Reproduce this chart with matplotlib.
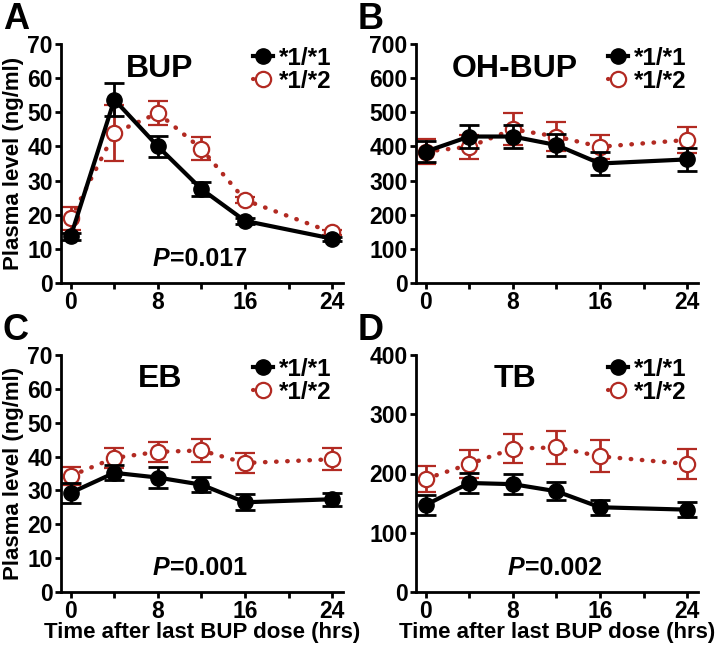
import matplotlib
matplotlib.use("Agg")
import matplotlib.pyplot as plt
from matplotlib.ticker import MultipleLocator
from matplotlib.lines import Line2D

plt.rcParams['font.family'] = ['Liberation Sans', 'DejaVu Sans']
plt.rcParams['font.weight'] = 'bold'

hours = [0, 4, 8, 12, 16, 24]
groups = ["*1/*1", "*1/*2"]

bup_11 = [13.7, 53.7, 40.0, 27.5, 18.2, 13.0]
bup_11_err = [1.0, 4.9, 3.1, 2.0, 0.8, 0.6]
bup_12 = [18.9, 43.9, 49.8, 39.3, 24.3, 14.8]
bup_12_err = [3.3, 8.1, 3.6, 3.4, 1.0, 0.8]

oh_11 = [385, 429, 429, 404, 350, 362]
oh_11_err = [30, 34, 34, 33, 34, 33]
oh_12 = [385, 399, 450, 429, 399, 419]
oh_12_err = [37, 35, 47, 43, 35, 37]

eb_11 = [29.3, 35.2, 33.8, 31.7, 26.5, 27.4]
eb_11_err = [2.9, 2.2, 3.0, 2.3, 2.3, 1.9]
eb_12 = [34.3, 39.6, 41.4, 41.8, 38.1, 39.2]
eb_12_err = [2.6, 2.9, 3.0, 3.3, 3.0, 3.2]

tb_11 = [147, 184, 182, 170, 143, 139]
tb_11_err = [17, 17, 17, 15, 13, 13]
tb_12 = [191, 216, 242, 244, 229, 216]
tb_12_err = [22, 23, 24, 28, 27, 25]

titles = ["BUP", "OH-BUP", "EB", "TB"]
letters = ["A", "B", "C", "D"]
pvals = ["0.017", None, "0.001", "0.002"]
ymaxes = [70, 700, 70, 400]
ysteps = [10, 100, 10, 100]

data = [(bup_11, bup_11_err, bup_12, bup_12_err),
        (oh_11, oh_11_err, oh_12, oh_12_err),
        (eb_11, eb_11_err, eb_12, eb_12_err),
        (tb_11, tb_11_err, tb_12, tb_12_err)]

W, H = 717, 650
fig = plt.figure(figsize=(W / 100, H / 100), dpi=100)

boxes = [(61, 44, 343, 283), (416, 44, 698, 283),
         (61, 355, 343, 592), (416, 355, 698, 592)]

red = "#b22a22"
dots = (0, (0.1, 2.4))
for i, (l, t, r, b) in enumerate(boxes):
    ax = fig.add_axes([l / W, 1 - b / H, (r - l) / W, (b - t) / H])
    y1, e1, y2, e2 = data[i]
    ax.errorbar(hours, y2, yerr=e2, color=red, ls=dots, lw=3.2,
                dash_capstyle='round', marker='o', ms=11, mfc='white', mec=red,
                mew=1.6, ecolor=red, elinewidth=2, capsize=7, capthick=2,
                zorder=2)
    ax.errorbar(hours, y1, yerr=e1, color='black', ls='-', lw=3,
                marker='o', ms=11, mfc='black', mec='black',
                ecolor='black', elinewidth=2, capsize=7, capthick=2,
                zorder=3)
    ax.set_xlim(-0.9, 25)
    ax.set_ylim(0, ymaxes[i])
    ax.xaxis.set_major_locator(MultipleLocator(8))
    ax.xaxis.set_minor_locator(MultipleLocator(4))
    ax.yaxis.set_major_locator(MultipleLocator(ysteps[i]))
    for s in ['top', 'right']:
        ax.spines[s].set_visible(False)
    for s in ['left', 'bottom']:
        ax.spines[s].set_linewidth(2)
    ax.tick_params(axis='both', which='major', width=2, length=4.5,
                   labelsize=16.5, pad=1.5)
    ax.tick_params(axis='x', which='minor', width=2, length=4.5)
    for lab in ax.get_xticklabels() + ax.get_yticklabels():
        lab.set_fontweight('bold')
    ax.text(0.35, 0.96, titles[i], transform=ax.transAxes, ha='center',
            va='top', fontsize=23, fontweight='bold')
    h = [Line2D([], [], color='black', lw=3, marker='o', ms=11, mfc='black'),
         Line2D([], [], color=red, lw=3, ls=dots, dash_capstyle='round',
                marker='o', ms=11, mfc='white', mec=red, mew=1.6)]
    ax.legend(h, groups, loc='upper right',
              bbox_to_anchor=(1.02, 1.06), frameon=False,
              prop={'weight': 'bold', 'size': 17.5}, handlelength=0.8,
              handletextpad=0.25, labelspacing=0.0, borderpad=0.2)
    if pvals[i]:
        ax.text(0.385, 0.1, "P", transform=ax.transAxes, ha='right',
                va='center', fontsize=18, fontweight='bold', style='italic')
        ax.text(0.385, 0.1, "=" + pvals[i], transform=ax.transAxes,
                ha='left', va='center', fontsize=18, fontweight='bold')
    if i in (0, 2):
        ax.set_ylabel("Plasma level (ng/ml)", fontsize=16, fontweight='bold',
                      labelpad=2)
    if i in (2, 3):
        ax.set_xlabel("Time after last BUP dose (hrs)", fontsize=16,
                      fontweight='bold', labelpad=-1)
    fig.text((l - 58) / W, 1 - (t - 42) / H, letters[i], fontsize=26,
             fontweight='bold', ha='left', va='top')

fig.savefig("out.png", dpi=100)
